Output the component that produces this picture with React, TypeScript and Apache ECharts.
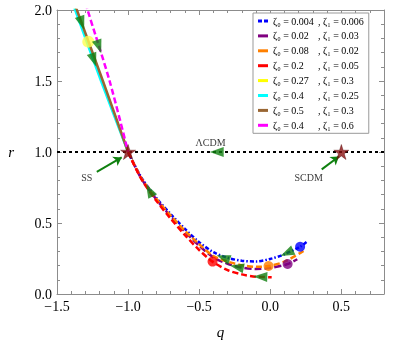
import React, { useEffect, useRef } from 'react';
import * as echarts from 'echarts';

const FONT = '"Liberation Serif", "DejaVu Serif", "Times New Roman", serif';
const FRAME = '#8c8c8c';
const GREEN = '#0f800f';

const zeta0 = ['0.004', '0.02', '0.08', '0.2', '0.27', '0.4', '0.5', '0.4'];
const zeta1 = ['0.006', '0.03', '0.02', '0.05', '0.3', '0.25', '0.3', '0.6'];
const colors = ['#0000ff', '#800080', '#ff8000', '#ff0000', '#ffff00', '#00ffff', '#996633', '#ff00ff'];

// curves [q, r]
const curveBlue = [[-1, 1], [-0.95, 0.9], [-0.9, 0.81], [-0.8, 0.675], [-0.7, 0.562], [-0.6, 0.458], [-0.5, 0.365], [-0.4, 0.295], [-0.3, 0.255], [-0.2, 0.234], [-0.1, 0.229], [0, 0.247], [0.1, 0.28], [0.21, 0.333], [0.255, 0.366]];
const curvePurple = [[-1, 1], [-0.95, 0.895], [-0.9, 0.802], [-0.8, 0.664], [-0.7, 0.546], [-0.6, 0.438], [-0.5, 0.34], [-0.4, 0.258], [-0.3, 0.213], [-0.2, 0.186], [-0.1, 0.176], [0, 0.183], [0.122, 0.211], [0.19, 0.245]];
const curveOrange = [[-1, 1], [-0.95, 0.897], [-0.9, 0.805], [-0.8, 0.668], [-0.7, 0.552], [-0.6, 0.445], [-0.5, 0.35], [-0.4, 0.268], [-0.3, 0.228], [-0.2, 0.203], [-0.1, 0.192], [-0.012, 0.197], [0.1, 0.228], [0.234, 0.303]];
const curveRed = [[-1, 1], [-0.95, 0.893], [-0.9, 0.798], [-0.8, 0.655], [-0.7, 0.53], [-0.6, 0.415], [-0.5, 0.31], [-0.406, 0.228], [-0.3, 0.168], [-0.2, 0.138], [-0.1, 0.122], [0.01, 0.118]];
const curveYellow = [[-1.384, 2.05], [-1.366, 2.0], [-1.183, 1.5], [-1.0, 1.0]];
const curveCyan = [[-1.39, 2.05], [-1.372, 2.0], [-1.19, 1.5], [-1.0, 1.0]];
const curveBrown = [[-1.378, 2.05], [-1.36, 2.0], [-1.177, 1.5], [-1.0, 1.0]];
const curveMagenta = [[-1.30, 2.05], [-1.285, 2.0], [-1.13, 1.5], [-1.0, 1.0]];
const curves = [curveBlue, curvePurple, curveOrange, curveRed, curveYellow, curveCyan, curveBrown, curveMagenta];
const dashTypes: any[] = [[4, 2, 1.5, 2], [7, 3], [6, 3], [6, 3], 'solid', 'solid', 'solid', [6, 3]];

// present-day points
const presentQ = [0.21, 0.122, -0.012, -0.406, -1.28];
const presentR = [0.333, 0.211, 0.197, 0.228, 1.777];
const presentColors = ['#0000ff', '#800080', '#ff8000', '#ff0000', '#ffff50'];
const presentSizes = [10, 10, 10, 10, 12];

// flow-direction arrowheads [q, r, rotation]
const flowQ = [-1.325, -1.205, -1.241, -0.85, -0.331, -0.235, -0.07, 0.117, -0.377];
const flowR = [1.908, 1.742, 1.648, 0.73, 0.256, 0.19, 0.121, 0.288, 1.0];
const flowRot = [199, 199, 199, 28, 70, 78, 88, 115, 90];

// fixed points
const fixedNames = ['SS', 'SCDM'];
const fixedQ = [-1.0, 0.5];
const fixedR = [1.0, 1.0];

// annotation labels
const labelText = ['SS', 'SCDM', 'ΛCDM'];
const labelQ = [-1.29, 0.27, -0.42];
const labelR = [0.82, 0.82, 1.07];

// annotation arrows [from, to]
const annArrows = [
  [[-1.22, 0.86], [-1.045, 0.962]],
  [[0.362, 0.878], [0.483, 0.968]],
];

const lcdmLine = [[-1.5, 1.0], [0.8, 1.0]];

const names = zeta0.map((z, i) => `ζ₀ = ${z} , ζ₁ = ${zeta1[i]}`);

const starPath = 'path://M50,0L61.2,34.5L97.6,34.5L68.2,55.9L79.4,90.5L50,69.1L20.6,90.5L31.8,55.9L2.4,34.5L38.8,34.5Z';

const fmtX = (v: number) => {
  if (Math.abs(v * 2 - Math.round(v * 2)) > 1e-6) return '';
  if (Math.abs(v) < 1e-9) return '0.0';
  return v < 0 ? '\u2212' + Math.abs(v).toFixed(1) : v.toFixed(1);
};

export default function App() {
  const ref = useRef<HTMLDivElement>(null);
  useEffect(() => {
    const chart = echarts.init(ref.current!, null, { renderer: 'svg' });
    const xBase = (pos: string, interval: number, major: boolean, withLabel: boolean) => ({
      type: 'value', min: -1.5, max: 0.8, interval, position: pos,
      axisLine: { show: major, onZero: false, lineStyle: { color: FRAME, width: 1 } },
      axisTick: { show: true, inside: true, length: major ? 5 : 3, lineStyle: { color: FRAME, width: 1 } },
      axisLabel: withLabel ? { show: true, formatter: fmtX, fontFamily: FONT, fontSize: 14, color: '#000', margin: 5 } : { show: false },
      splitLine: { show: false },
    });
    const yBase = (pos: string, withLabel: boolean) => ({
      type: 'value', min: 0, max: 2, interval: 0.5, position: pos,
      axisLine: { show: true, onZero: false, lineStyle: { color: FRAME, width: 1 } },
      axisTick: { show: true, inside: true, length: 5, lineStyle: { color: FRAME, width: 1 } },
      minorTick: { show: true, splitNumber: 5, length: 3, lineStyle: { color: FRAME, width: 1 } },
      axisLabel: withLabel ? { show: true, formatter: (v: number) => v.toFixed(1), fontFamily: FONT, fontSize: 14, color: '#000', margin: 5 } : { show: false },
      splitLine: { show: false },
    });
    const xAxes: any[] = [
      { ...xBase('bottom', 0.5, true, true), name: 'q', nameLocation: 'middle', nameGap: 30, nameTextStyle: { fontFamily: FONT, fontStyle: 'italic', fontSize: 15, color: '#000' } },
      xBase('bottom', 0.1, false, false),
      xBase('top', 0.5, true, false),
      xBase('top', 0.1, false, false),
    ];
    const yAxes: any[] = [
      { ...yBase('left', true), name: 'r', nameLocation: 'middle', nameGap: 43, nameRotate: 0, nameTextStyle: { fontFamily: FONT, fontStyle: 'italic', fontSize: 15, color: '#000' } },
      yBase('right', false),
    ];

    const series: any[] = [];
    series.push({
      type: 'line', data: lcdmLine, symbol: 'none', silent: true,
      lineStyle: { color: '#000', width: 2, type: [3, 3] },
    });
    curves.forEach((c, i) => {
      series.push({
        name: names[i], type: 'line', data: c, symbol: 'none', showSymbol: false, smooth: 0.3,
        color: colors[i],
        lineStyle: { color: colors[i], width: 2.5, type: dashTypes[i] },
        itemStyle: { color: colors[i] },
      });
    });
    series.push({
      type: 'scatter', symbol: 'circle', silent: true, z: 4,
      data: presentQ.map((q, i) => ({ value: [q, presentR[i]], symbolSize: presentSizes[i], itemStyle: { color: presentColors[i] } })),
    });
    series.push({
      type: 'scatter', symbol: 'triangle', symbolSize: [10, 14], silent: true, z: 5,
      itemStyle: { color: GREEN },
      data: flowQ.map((q, i) => ({ value: [q, flowR[i]], symbolRotate: flowRot[i] })),
    });
    series.push({
      type: 'lines', coordinateSystem: 'cartesian2d', symbol: ['none', 'arrow'], symbolSize: 8, silent: true, z: 5,
      lineStyle: { color: GREEN, width: 2, opacity: 1 },
      data: annArrows.map((c) => ({ coords: c })),
    });
    series.push({
      type: 'scatter', symbol: starPath, symbolSize: 15, silent: true, z: 6,
      itemStyle: { color: '#8b1010', borderColor: '#500000', borderWidth: 0.5 },
      data: fixedQ.map((q, i) => ({ name: fixedNames[i], value: [q, fixedR[i]] })),
    });
    series.push({
      type: 'scatter', symbol: 'circle', symbolSize: 1, silent: true, z: 6,
      itemStyle: { color: 'rgba(0,0,0,0)' },
      label: { show: true, position: 'inside', formatter: '{b}', fontFamily: FONT, fontSize: 10, color: '#000' },
      data: labelQ.map((q, i) => ({ name: labelText[i], value: [q, labelR[i]] })),
    });

    chart.setOption({
      animation: false,
      grid: { left: 57, right: 18, top: 10, bottom: 57, containLabel: false },
      xAxis: xAxes,
      yAxis: yAxes,
      legend: {
        orient: 'vertical', left: 253, top: 13,
        backgroundColor: '#fff', borderColor: '#999', borderWidth: 1,
        padding: [3, 5, 3, 5],
        itemWidth: 10, itemHeight: 3, itemGap: 4.9,
        data: names.map((n, i) => ({ name: n, icon: i === 0 ? 'path://M0,0h4v3h-4zM6,0h4v3h-4z' : 'rect' })),
        formatter: (name: string) => {
          const i = names.indexOf(name);
          return `{a|ζ₀ = ${zeta0[i]}}{b|, ζ₁ = ${zeta1[i]}}`;
        },
        textStyle: {
          fontFamily: FONT, fontSize: 10, color: '#000',
          rich: {
            a: { width: 45, fontFamily: FONT, fontSize: 10, color: '#000' },
            b: { width: 60, fontFamily: FONT, fontSize: 10, color: '#000' },
          },
        },
      },
      series,
    });
    return () => chart.dispose();
  }, []);
  return <div ref={ref} style={{ position: 'fixed', left: 0, top: 0, width: 402, height: 351 }} />;
}
